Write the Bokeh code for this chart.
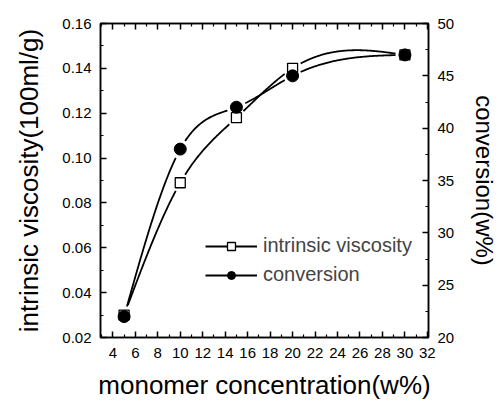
import numpy as np
from bokeh.plotting import figure
from bokeh.models import (LinearAxis, Range1d, FixedTicker, ColumnDataSource,
                          Legend, LegendItem, NumeralTickFormatter, CustomJSTickFormatter)
from bokeh.embed import file_html
from bokeh.resources import INLINE

# ---- data ----
conc = [5, 10, 15, 20, 30]                       # monomer concentration (w%)
viscosity = [0.030, 0.089, 0.118, 0.140, 0.146]  # intrinsic viscosity (100ml/g)
conversion = [22.0, 38.0, 42.0, 45.0, 47.0]      # conversion (w%)

x_ticks = [4, 6, 8, 10, 12, 14, 16, 18, 20, 22, 24, 26, 28, 30, 32]
y_ticks = [0.02, 0.04, 0.06, 0.08, 0.10, 0.12, 0.14, 0.16]
y2_ticks = [20, 25, 30, 35, 40, 45, 50]

FONT = "Liberation Sans"
X0, X1 = 2.9, 32.1
Y0, Y1 = 0.02, 0.16
Z0, Z1 = 20, 50
L, R, T, B = 100, 67, 23, 65
W, H = 501, 402
fw, fh = W - L - R, H - T - B


def spline_path(xs, ys, n=300):
    """Natural cubic spline through the data points (Origin-style 'spline' connection)."""
    xs = np.asarray(xs, float); ys = np.asarray(ys, float)
    k = len(xs); h = np.diff(xs)
    A = np.zeros((k, k)); rhs = np.zeros(k)
    A[0, 0] = A[-1, -1] = 1
    for i in range(1, k - 1):
        A[i, i - 1] = h[i - 1]; A[i, i] = 2 * (h[i - 1] + h[i]); A[i, i + 1] = h[i]
        rhs[i] = 6 * ((ys[i + 1] - ys[i]) / h[i] - (ys[i] - ys[i - 1]) / h[i - 1])
    M = np.linalg.solve(A, rhs)
    xx = np.linspace(xs[0], xs[-1], n)
    idx = np.clip(np.searchsorted(xs, xx) - 1, 0, k - 2)
    x0 = xs[idx]; x1 = xs[idx + 1]; hh = x1 - x0
    a = (x1 - xx) / hh; b = (xx - x0) / hh
    yy = a * ys[idx] + b * ys[idx + 1] + ((a**3 - a) * M[idx] + (b**3 - b) * M[idx + 1]) * hh**2 / 6
    return xx, yy


def gap(xx, yy, xs, ys, lo, hi, r=9):
    """Break the line near its own markers (screen distance r px)."""
    sx = fw / (X1 - X0); sy = fh / (hi - lo)
    yy = yy.copy()
    for px, py in zip(xs, ys):
        d = np.hypot((xx - px) * sx, (yy - py) * sy)
        yy[d < r] = np.nan
    return yy


p = figure(width=W, height=H, output_backend="svg", toolbar_location=None,
           x_range=Range1d(X0, X1), y_range=Range1d(Y0, Y1),
           min_border_left=L, min_border_right=R, min_border_top=T, min_border_bottom=B,
           background_fill_color="white", border_fill_color="white")
p.extra_y_ranges = {"conv": Range1d(Z0, Z1)}
p.xgrid.visible = False
p.ygrid.visible = False
p.outline_line_color = "black"
p.outline_line_width = 1.5


def style(ax):
    ax.axis_line_width = 1.5
    ax.major_tick_in = 6
    ax.major_tick_out = 0
    ax.minor_tick_in = 3
    ax.minor_tick_out = 0
    ax.major_tick_line_width = 1.5
    ax.minor_tick_line_width = 1.2
    ax.major_label_text_font = FONT
    ax.major_label_text_font_size = "15px"
    ax.major_label_text_color = "black"
    ax.axis_label_text_font = FONT
    ax.axis_label_text_font_style = "normal"
    ax.axis_label_text_color = "black"


xt = FixedTicker(ticks=x_ticks, minor_ticks=[3 + 2 * i for i in range(15)])
yt = FixedTicker(ticks=y_ticks, minor_ticks=[0.03 + 0.02 * i for i in range(7)])
zt = FixedTicker(ticks=y2_ticks, minor_ticks=[22.5 + 5 * i for i in range(6)])

xa = p.xaxis[0]
xa.ticker = xt
style(xa)
xa.axis_label = "monomer concentration(w%)"
xa.axis_label_text_font_size = "26px"
xa.major_label_standoff = 10
xa.axis_label_standoff = 9

ya = p.yaxis[0]
ya.ticker = yt
style(ya)
ya.axis_label = "intrinsic viscosity(100ml/g)"
ya.axis_label_text_font_size = "26px"
ya.major_label_standoff = 9
ya.axis_label_standoff = 15
ya.formatter = NumeralTickFormatter(format="0.00")

top = LinearAxis(ticker=xt, formatter=CustomJSTickFormatter(code="return ''"))
style(top)
p.add_layout(top, "above")

za = LinearAxis(y_range_name="conv", ticker=zt, axis_label="conversion(w%)")
style(za)
za.axis_label_text_font_size = "24px"
za.major_label_standoff = 9
za.axis_label_standoff = 14
p.add_layout(za, "right")

# curves
vx, vy = spline_path(conc, viscosity)
vy = gap(vx, vy, conc, viscosity, Y0, Y1)
cx, cy = spline_path(conc, conversion)
cy = gap(cx, cy, conc, conversion, Z0, Z1)

lv = p.line(vx, vy, line_color="black", line_width=1.8)
lc = p.line(cx, cy, line_color="black", line_width=1.8, y_range_name="conv")

src_v = ColumnDataSource(dict(x=conc, y=viscosity))
src_c = ColumnDataSource(dict(x=conc, y=conversion))
mv = p.scatter("x", "y", source=src_v, marker="square", size=10,
               fill_color="white", line_color="black", line_width=1.3)
mc = p.scatter("x", "y", source=src_c, marker="circle", size=12,
               fill_color="black", line_color="black", y_range_name="conv")

# legend
legend = Legend(items=[LegendItem(label="intrinsic viscosity", renderers=[lv, mv]),
                       LegendItem(label="conversion", renderers=[lc, mc])],
                location=(105, 51), glyph_width=52, glyph_height=20,
                label_standoff=6, spacing=6, padding=0, margin=0,
                label_text_font=FONT, label_text_font_size="20px",
                border_line_color=None, background_fill_alpha=0)
p.add_layout(legend, "center")

open("out.html", "w").write(file_html(p, INLINE))
